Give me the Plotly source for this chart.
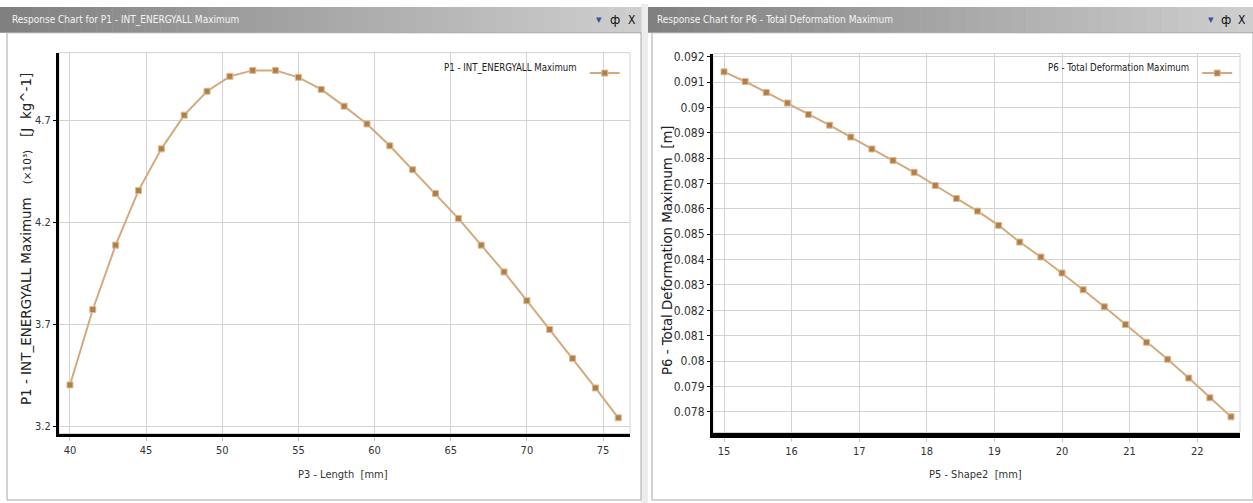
import plotly.graph_objects as go

# ---------------- data ----------------
p3_length = [40, 41.5, 43, 44.5, 46, 47.5, 49, 50.5, 52, 53.5, 55, 56.5, 58,
             59.5, 61, 62.5, 64, 65.5, 67, 68.5, 70, 71.5, 73, 74.5, 76]
p1_energy = [3.404, 3.773, 4.088, 4.355, 4.559, 4.724, 4.841, 4.914, 4.943,
             4.943, 4.909, 4.850, 4.768, 4.681, 4.574, 4.457, 4.341, 4.219,
             4.088, 3.957, 3.816, 3.675, 3.534, 3.389, 3.243]

p5_shape2 = [15, 15.3125, 15.625, 15.9375, 16.25, 16.5625, 16.875, 17.1875,
             17.5, 17.8125, 18.125, 18.4375, 18.75, 19.0625, 19.375, 19.6875,
             20, 20.3125, 20.625, 20.9375, 21.25, 21.5625, 21.875, 22.1875, 22.5]
p6_deform = [0.09140, 0.09102, 0.09059, 0.09017, 0.08972, 0.08930, 0.08883,
             0.08836, 0.08791, 0.08744, 0.08692, 0.08641, 0.08591, 0.08535,
             0.08469, 0.08410, 0.08347, 0.08281, 0.08214, 0.08144, 0.08074,
             0.08007, 0.07933, 0.07855, 0.07780]

left_yticks = [3.2, 3.7, 4.2, 4.7]
left_xticks = [40, 45, 50, 55, 60, 65, 70, 75]
right_yticks = [0.078, 0.079, 0.08, 0.081, 0.082, 0.083, 0.084, 0.085,
                0.086, 0.087, 0.088, 0.089, 0.09, 0.091, 0.092]
right_xticks = [15, 16, 17, 18, 19, 20, 21, 22]

# ---------------- styling ----------------
W, H = 1253, 503
NARROW = "DejaVu Sans Condensed, Liberation Sans Narrow, Arial Narrow, sans-serif"
COND = "DejaVu Sans Condensed, DejaVu Sans, sans-serif"
WIDE = "DejaVu Sans, Verdana, sans-serif"
LINE_C = "#d3aa7e"
MARK_C = "#b27f4a"
MARK_B = "#dcbb93"
GRID = "#d2d2d2"


def px(x):
    return x / W


def py(y):
    return 1 - y / H


fig = go.Figure()

fig.add_trace(go.Scatter(
    x=p3_length, y=p1_energy, mode="lines+markers", name="",
    line=dict(color=LINE_C, width=2),
    marker=dict(symbol="square", size=6, color=MARK_C, line=dict(color=MARK_B, width=1)),
    xaxis="x", yaxis="y", legend="legend", showlegend=True))

fig.add_trace(go.Scatter(
    x=p5_shape2, y=p6_deform, mode="lines+markers", name="",
    line=dict(color=LINE_C, width=2),
    marker=dict(symbol="square", size=6, color=MARK_C, line=dict(color=MARK_B, width=1)),
    xaxis="x2", yaxis="y2", legend="legend2", showlegend=True))

# panel geometry (pixels)
L = dict(x0=59, x1=630, y0=49, y1=433)
R = dict(x0=713, x1=1240, y0=50, y1=432)

axis_common = dict(showgrid=True, gridcolor=GRID, gridwidth=1, zeroline=False,
                   showline=True, linecolor="black")

layout = dict(
    width=W, height=H, margin=dict(l=0, r=0, t=0, b=0),
    paper_bgcolor="white", plot_bgcolor="white",
    xaxis=dict(domain=[px(L["x0"]), px(L["x1"])], range=[39.28, 76.77],
               tickvals=left_xticks, ticks="outside", ticklen=4, tickcolor="#c8c8c8",
               linewidth=3, tickfont=dict(family=NARROW, size=11, color="#333"),
               anchor="y", **axis_common),
    yaxis=dict(domain=[py(L["y1"]), py(L["y0"])], range=[3.166, 5.03],
               tickvals=left_yticks, ticktext=[f"{v}" for v in left_yticks],
               ticks="outside", ticklen=3, tickcolor="black",
               linewidth=3, tickfont=dict(family=NARROW, size=11, color="#333"),
               anchor="x", **axis_common),
    xaxis2=dict(domain=[px(R["x0"]), px(R["x1"])], range=[14.837, 22.633],
                tickvals=right_xticks, ticks="outside", ticklen=4, tickcolor="#c8c8c8",
                linewidth=5, tickfont=dict(family=NARROW, size=11, color="#333"),
                anchor="y2", **axis_common),
    yaxis2=dict(domain=[py(R["y1"]), py(R["y0"])], range=[0.07718, 0.09212],
                tickvals=right_yticks, ticktext=[f"{v:g}" for v in right_yticks],
                ticks="outside", ticklen=3, tickcolor="black",
                linewidth=3, tickfont=dict(family=COND, size=12, color="#333"),
                anchor="x2", **axis_common),
    legend=dict(x=px(630), xanchor="right", y=py(55), yanchor="top",
                bgcolor="rgba(0,0,0,0)", borderwidth=0,
                font=dict(family=NARROW, size=9.6, color="#222"),
                title=dict(text="P1 - INT_ENERGYALL Maximum", side="left",
                           font=dict(family=NARROW, size=9.6, color="#222")),
                itemwidth=30),
    legend2=dict(x=px(1243), xanchor="right", y=py(55), yanchor="top",
                 bgcolor="rgba(0,0,0,0)", borderwidth=0,
                 font=dict(family=NARROW, size=9.6, color="#222"),
                 title=dict(text="P6 - Total Deformation Maximum", side="left",
                            font=dict(family=NARROW, size=9.6, color="#222")),
                 itemwidth=30),
)

shapes = []


def bar(x0, x1, y0, y1, n=40, c0=(128, 128, 128), c1=(206, 206, 206)):
    w = (x1 - x0) / n
    for i in range(n):
        t = i / (n - 1)
        c = tuple(int(c0[k] + (c1[k] - c0[k]) * t) for k in range(3))
        shapes.append(dict(type="rect", xref="paper", yref="paper",
                           x0=px(x0 + i * w), x1=px(x0 + (i + 1) * w + 0.6),
                           y0=py(y1), y1=py(y0), line=dict(width=0),
                           fillcolor=f"rgb{c}", layer="below"))


# separator strip between the two windows
shapes.append(dict(type="rect", xref="paper", yref="paper", x0=px(641), x1=px(648),
                   y0=0, y1=1, line=dict(width=0), fillcolor="#ececec", layer="below"))
# title bars
bar(0, 641, 3, 29)
bar(648, 1253, 3, 29)
# window frames
for (a, b) in [(7, 641), (652, 1253)]:
    shapes.append(dict(type="rect", xref="paper", yref="paper", x0=px(a), x1=px(b),
                       y0=py(500), y1=py(29), line=dict(color="#a8a8a8", width=1),
                       fillcolor="rgba(0,0,0,0)", layer="below"))
# light border around plot areas (top/right)
for g in (L, R):
    shapes.append(dict(type="rect", xref="paper", yref="paper",
                       x0=px(g["x0"]), x1=px(g["x1"]), y0=py(g["y1"]), y1=py(g["y0"]),
                       line=dict(color=GRID, width=1), layer="below"))

annotations = [
    dict(text="Response Chart for P1 - INT_ENERGYALL Maximum", x=px(10), y=py(16),
         xanchor="left", yanchor="middle", font=dict(family=NARROW, size=10, color="#f4f4f4")),
    dict(text="Response Chart for P6 - Total Deformation Maximum", x=px(655), y=py(16),
         xanchor="left", yanchor="middle", font=dict(family=NARROW, size=10, color="#f4f4f4")),
    dict(text="P3 - Length  [mm]", x=px(343), y=py(474), xanchor="center", yanchor="middle",
         font=dict(family=NARROW, size=11, color="#333")),
    dict(text="P5 - Shape2  [mm]", x=px(975), y=py(474), xanchor="center", yanchor="middle",
         font=dict(family=NARROW, size=11, color="#333")),
    dict(text="P1 - INT_ENERGYALL Maximum   <span style='font-size:10.5px'>(×10³)</span>   [J  kg^-1]",
         x=px(26), y=py(237), textangle=-90, xanchor="center", yanchor="middle",
         font=dict(family=WIDE, size=13.5, color="#222")),
    dict(text="P6 - Total Deformation Maximum  [m]",
         x=px(667), y=py(248), textangle=-90, xanchor="center", yanchor="middle",
         font=dict(family=WIDE, size=13.3, color="#222")),
]
for (xd, xp, xx) in [(599, 615, 632), (1211, 1226, 1242)]:
    annotations += [
        dict(text="▾", x=px(xd), y=py(16), xanchor="center", yanchor="middle",
             font=dict(family=WIDE, size=11, color="#3d4f9a")),
        dict(text="ф", x=px(xp), y=py(16), xanchor="center", yanchor="middle",
             font=dict(family=WIDE, size=12, color="#111")),
        dict(text="X", x=px(xx), y=py(16), xanchor="center", yanchor="middle",
             font=dict(family=NARROW, size=12, color="#111")),
    ]
for a in annotations:
    a.update(xref="paper", yref="paper", showarrow=False)

layout["shapes"] = shapes
layout["annotations"] = annotations
fig.update_layout(**layout)

fig.write_html("out.html")
